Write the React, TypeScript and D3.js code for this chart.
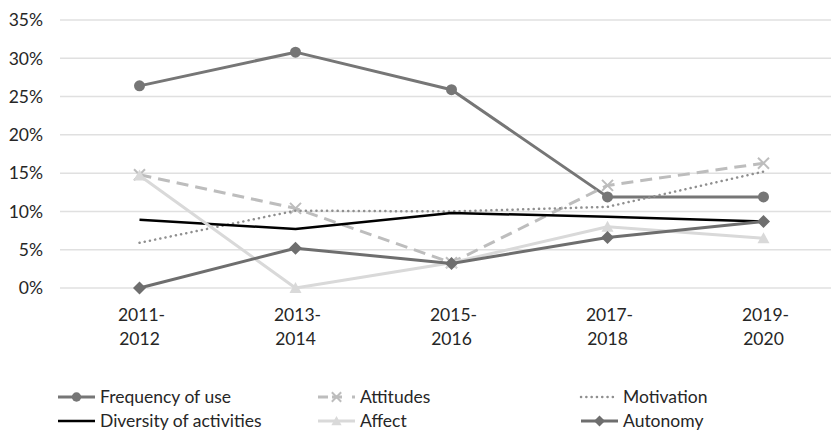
import React from "react";
import * as d3 from "d3";

const categories = ["2011-2012", "2013-2014", "2015-2016", "2017-2018", "2019-2020"];
const yTicks = [0, 5, 10, 15, 20, 25, 30, 35];

const frequencyOfUse = [26.4, 30.8, 25.9, 11.9, 11.9];
const attitudes = [14.8, 10.4, 3.3, 13.4, 16.3];
const motivation = [5.9, 10.1, 10.0, 10.6, 15.2];
const diversityOfActivities = [8.9, 7.7, 9.8, 9.3, 8.7];
const affect = [14.7, 0.0, 3.3, 8.0, 6.5];
const autonomy = [0.0, 5.2, 3.2, 6.6, 8.7];

const seriesNames = ["Frequency of use", "Attitudes", "Motivation", "Diversity of activities", "Affect", "Autonomy"];

type Style = { color: string; width: number; dash?: string; marker: string; cap?: string };

const styles: Style[] = [
  { color: "#767676", width: 3, marker: "circle" },
  { color: "#bdbdbd", width: 3, dash: "12,7", marker: "x" },
  { color: "#8f8f8f", width: 2.5, dash: "0.1,5.2", marker: "none", cap: "round" },
  { color: "#000000", width: 2.5, marker: "none" },
  { color: "#d9d9d9", width: 3, marker: "triangle" },
  { color: "#6e6e6e", width: 3, marker: "diamond" },
];

const FONT = "Lato, 'Liberation Sans', sans-serif";
const FS = 17.5;

function Marker({ type, x, y, color, k = 1 }: { type: string; x: number; y: number; color: string; k?: number }) {
  if (type === "circle") return <circle cx={x} cy={y} r={5.5 * k} fill={color} />;
  if (type === "diamond") {
    const r = 6.5 * k;
    return <path d={`M${x},${y - r}L${x + r},${y}L${x},${y + r}L${x - r},${y}Z`} fill={color} />;
  }
  if (type === "triangle") {
    const r = 6 * k;
    return <path d={`M${x},${y - r}L${x + r},${y + r * 0.85}L${x - r},${y + r * 0.85}Z`} fill={color} />;
  }
  if (type === "x") {
    const r = 5.5 * k;
    return (
      <path
        d={`M${x - r},${y - r}L${x + r},${y + r}M${x + r},${y - r}L${x - r},${y + r}`}
        stroke={color}
        strokeWidth={2}
        fill="none"
      />
    );
  }
  return null;
}

export default function App() {
  const width = 831;
  const height = 431;
  const data = [frequencyOfUse, attitudes, motivation, diversityOfActivities, affect, autonomy];

  const x = d3.scaleBand<string>().domain(categories).range([61.5, 841.5]);
  const y = d3.scaleLinear().domain([0, 35]).range([288, 20]);
  const cx = (c: string) => (x(c) ?? 0) + x.bandwidth() / 2;

  const line = d3
    .line<number>()
    .x((_, i) => cx(categories[i]))
    .y((d) => y(d));

  const legendCols = [58, 318, 581];
  const legendRows = [397, 421];

  return (
    <svg
      width={width}
      height={height}
      style={{ position: "absolute", left: 0, top: 0, background: "#fff" }}
      fontFamily={FONT}
    >
      <rect width={width} height={height} fill="#fff" />
      {yTicks.map((t) => (
        <g key={t}>
          <line x1={60} x2={841} y1={y(t)} y2={y(t)} stroke="#e0e0e0" strokeWidth={1.5} />
          <text x={43} y={y(t)} dy="0.36em" textAnchor="end" fontSize={FS} fill="#262626">
            {t}%
          </text>
        </g>
      ))}
      {categories.map((c) => {
        const [a, b] = c.split("-");
        return (
          <text key={c} x={cx(c)} textAnchor="middle" fontSize={FS} fill="#262626">
            <tspan x={cx(c) + 2} y={321}>
              {a}-
            </tspan>
            <tspan x={cx(c)} y={345}>
              {b}
            </tspan>
          </text>
        );
      })}
      {data.map((vals, si) => {
        const s = styles[si];
        return (
          <g key={si}>
            <path
              d={line(vals) ?? ""}
              fill="none"
              stroke={s.color}
              strokeWidth={s.width}
              strokeDasharray={s.dash}
              strokeLinecap={(s.cap as any) ?? "butt"}
              strokeLinejoin="round"
            />
            {vals.map((v, i) => (
              <Marker key={i} type={s.marker} x={cx(categories[i])} y={y(v)} color={s.color} />
            ))}
          </g>
        );
      })}
      {seriesNames.map((name, i) => {
        const s = styles[i];
        const lx = legendCols[i % 3];
        const ly = legendRows[Math.floor(i / 3)];
        return (
          <g key={name}>
            <line
              x1={lx}
              x2={lx + 37}
              y1={ly}
              y2={ly}
              stroke={s.color}
              strokeWidth={s.width}
              strokeDasharray={s.marker === "x" ? "10,4,10" : s.dash}
              strokeLinecap={(s.cap as any) ?? "butt"}
            />
            <Marker type={s.marker} x={lx + 18.5} y={ly} color={s.color} k={0.85} />
            <text x={lx + 42} y={ly} dy="0.36em" fontSize={FS} fill="#262626">
              {name}
            </text>
          </g>
        );
      })}
    </svg>
  );
}
